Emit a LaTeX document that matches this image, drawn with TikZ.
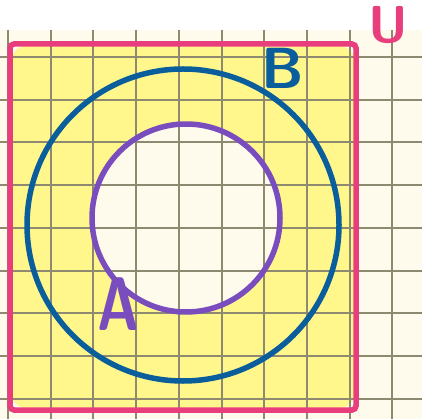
\documentclass[tikz,border=0pt]{standalone}
\usetikzlibrary{positioning}
\definecolor{paper}{HTML}{FFFBEC}
\definecolor{gridline}{HTML}{8E8A72}
\definecolor{hiyellow}{HTML}{FFF68C}
\definecolor{penpink}{HTML}{E83E7E}
\definecolor{penblue}{HTML}{0A5E9C}
\definecolor{penpurple}{HTML}{7A4DBF}
\begin{document}
\begin{tikzpicture}[
  x=1pt,y=-1pt,
  pen/.style={line width=5.5pt},
  gl/.style={gridline,line width=2pt},
  lbl/.style={inner sep=0pt}
]
\useasboundingbox (0,0) rectangle (422,419);
% paper and highlighter
\fill[paper] (0,30) rectangle (422,419);
\fill[hiyellow,rounded corners=14pt] (12,46) rectangle (354,408);
\fill[paper] (186,218) circle (94);
% grid
\foreach \i in {0,...,9}
  \draw[gl] (8+42.7*\i,30) -- (8+42.7*\i,419);
\foreach \j in {0,...,8}
  \draw[gl] (0,57+42.7*\j) -- (422,57+42.7*\j);
% sets
\draw[pen,penpink,rounded corners=4pt] (10,44) rectangle (356,410);
\draw[pen,penblue] (183,225) circle (156);
\draw[pen,penpurple] (186,218) circle (94);
% labels
\node[lbl,penpink,font=\sffamily\bfseries\fontsize{52}{52}\selectfont] (u) at (388,25) {U};
\node[lbl,penblue,font=\sffamily\bfseries\fontsize{58}{58}\selectfont] (b) at (283,68) {B};
\node[lbl,penpurple,font=\sffamily\bfseries\fontsize{76}{76}\selectfont,xscale=0.75] (a) at (118,304) {A};
\end{tikzpicture}
\end{document}
